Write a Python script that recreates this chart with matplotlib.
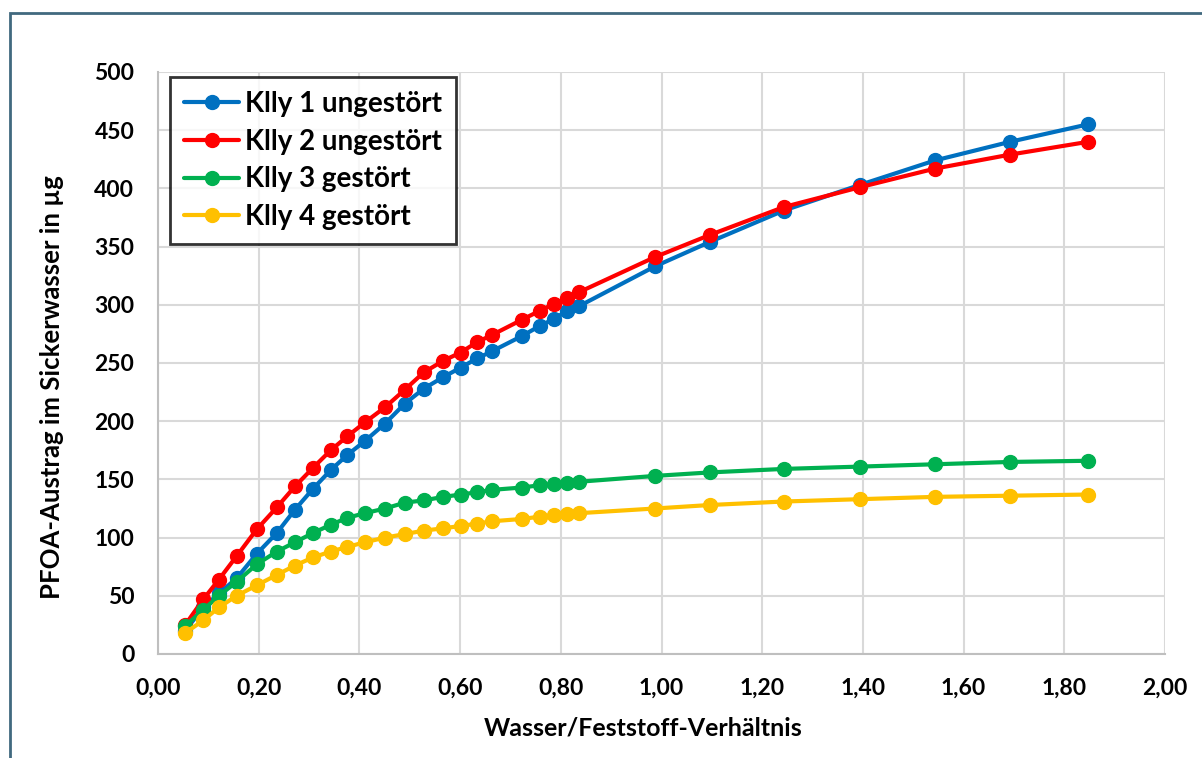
import matplotlib
matplotlib.use("Agg")
import matplotlib.pyplot as plt
from matplotlib.patches import Rectangle
from matplotlib.ticker import FuncFormatter, MultipleLocator

plt.rcParams['font.family'] = ['Lato', 'DejaVu Sans']
plt.rcParams['font.weight'] = 'bold'

# Wasser/Feststoff-Verhältnis
x_vals = [0.054, 0.090, 0.121, 0.156, 0.196, 0.236, 0.272, 0.308, 0.343, 0.376,
          0.411, 0.451, 0.490, 0.528, 0.567, 0.601, 0.634, 0.663, 0.722, 0.759,
          0.787, 0.813, 0.837, 0.987, 1.096, 1.243, 1.394, 1.543, 1.692, 1.847]

klly1 = [20, 40, 52, 65, 86, 104, 124, 142, 158, 171,
         183, 198, 215, 228, 238, 246, 254, 260, 273, 282,
         288, 295, 299, 333, 354, 381, 403, 424, 440, 455]
klly2 = [25, 47, 64, 84, 107, 126, 144, 160, 175, 187,
         199, 212, 227, 242, 252, 259, 268, 274, 287, 295,
         301, 306, 311, 341, 360, 384, 401, 417, 429, 440]
klly3 = [24, 38, 50, 62, 77, 88, 96, 104, 111, 117,
         121, 125, 130, 132, 135, 137, 139, 141, 143, 145,
         146, 147, 148, 153, 156, 159, 161, 163, 165, 166]
klly4 = [18, 29, 40, 50, 59, 68, 76, 83, 88, 92,
         96, 100, 103, 106, 108, 110, 112, 114, 116, 118,
         119, 120, 121, 125, 128, 131, 133, 135, 136, 137]

series_names = ["Klly 1 ungestört", "Klly 2 ungestört", "Klly 3 gestört", "Klly 4 gestört"]
series_vals = [klly1, klly2, klly3, klly4]
colors = ["#0070C0", "#FF0000", "#00B050", "#FFC000"]

fig = plt.figure(figsize=(12.02, 7.58), dpi=100)
ax = fig.add_axes([158/1202, 1-654/758, (1165-158)/1202, (654-72)/758])

for name, vals, c in zip(series_names, series_vals, colors):
    ax.plot(x_vals, vals, color=c, lw=3, marker='o', ms=10, label=name,
            solid_capstyle='round', clip_on=False)

ax.set_xlim(0, 2.0)
ax.set_ylim(0, 500)
ax.xaxis.set_major_locator(MultipleLocator(0.2))
ax.yaxis.set_major_locator(MultipleLocator(50))
ax.xaxis.set_major_formatter(FuncFormatter(lambda v, p: f"{v:.2f}".replace('.', ',')))
ax.yaxis.set_major_formatter(FuncFormatter(lambda v, p: f"{int(round(v))}"))
ax.grid(True, color='#d9d9d9', lw=1.5)
ax.set_axisbelow(True)
for s in ['top', 'right']:
    ax.spines[s].set_visible(False)
for s in ['left', 'bottom']:
    ax.spines[s].set_color('#bfbfbf')
    ax.spines[s].set_linewidth(1.5)
ax.tick_params(length=0, labelsize=16.5)
ax.tick_params(axis='x', pad=17)
ax.tick_params(axis='y', pad=17)
for lab in ax.get_xticklabels() + ax.get_yticklabels():
    lab.set_fontweight('bold')

ax.set_xlabel("Wasser/Feststoff-Verhältnis", fontsize=18, fontweight='bold')
ax.set_ylabel("PFOA-Austrag im Sickerwasser in µg", fontsize=18.5, fontweight='bold')
ax.xaxis.set_label_coords((643-158)/1007, -(716-654)/582, transform=ax.transAxes)
ax.xaxis.label.set_va('top')
ax.yaxis.set_label_coords(-(158-52)/1007, (654-387)/582, transform=ax.transAxes)
ax.yaxis.label.set_va('center')

leg = ax.legend(loc='upper left', bbox_to_anchor=(12/1007, 1-5/582), fontsize=20,
                frameon=True, fancybox=False, edgecolor='black', handlelength=2.0,
                borderpad=0.5, labelspacing=0.42, handletextpad=0.2, borderaxespad=0)
leg.get_frame().set_linewidth(2)
for t in leg.get_texts():
    t.set_fontweight('bold')

fig.patches.append(Rectangle((10/1202, -0.05), 1.1, 1-13/758+0.05, transform=fig.transFigure,
                             fill=False, edgecolor='#41697f', lw=2))

fig.savefig("out.png", dpi=100)
